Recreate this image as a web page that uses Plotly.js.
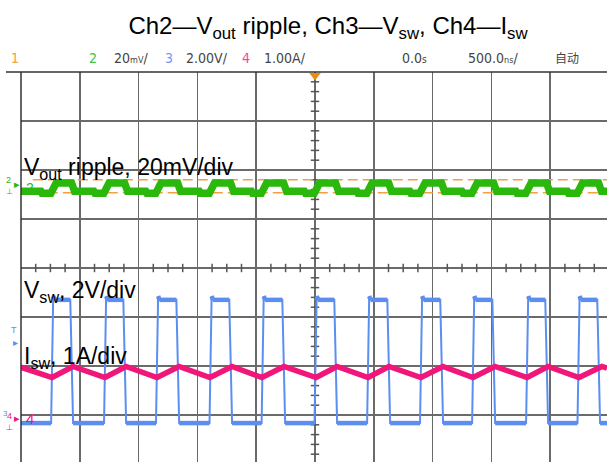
<!DOCTYPE html>
<html><head><meta charset="utf-8">
<script src="https://cdn.plot.ly/plotly-3.0.1.min.js"></script>
<style>html,body{margin:0;padding:0;background:#fff}</style>
</head><body><div id="chart" style="width:607px;height:462px"></div>
<script>
// ---- scope settings ----
const nsPerDiv = 500;
const ch2mVperDiv = 20, ch2RefDiv = 1.70;
const ch3VperDiv = 2, ch3RefDiv = -3;
const ch4AperDiv = 1, ch4RefDiv = -3;

// ---- Ch3 Vsw: switching edges (ns) and levels (V) ----
const vswRiseNs = [-2236, -1786, -1344, -889, -446, 4, 451, 901, 1344, 1803, 2240];
const vswFallNs = [-2075, -1624, -1173, -723, -272, 170, 621, 1071, 1514, 1964, 2406];
const vswHighV = 4.7;
const vswLowV = -0.33;

// ---- Ch4 Isw: triangle vertices (ns, A) ----
const iswT = [-2500, -2236, -2058, -1786, -1607, -1344, -1156, -893, -706, -451, -264, 9, 187, 451, 629, 901, 1088, 1344, 1531, 1803, 1981, 2245, 2440, 2483];
const iswA = [0.975, 0.765, 0.99, 0.765, 0.99, 0.765, 0.99, 0.765, 0.99, 0.765, 0.99, 0.765, 0.99, 0.765, 0.99, 0.765, 0.99, 0.765, 0.99, 0.765, 0.99, 0.765, 0.99, 0.955];

// ---- Ch2 Vout ripple levels (mV) ----
const voutHighmV = 0.7;
const voutLowmV = -2.65;
const voutDipmV = -3.5;
// cursor levels (mV)
const cursorLevelsmV = [2.04, -3.27];

// ---- header texts ----
const titleText = 'Ch2—V<sub>out</sub> ripple, Ch3—V<sub>sw</sub>, Ch4—I<sub>sw</sub>';
const labelVout = 'V<sub>out</sub> ripple, 20mV/div';
const labelVsw = 'V<sub>sw</sub>, 2V/div';
const labelIsw = 'I<sub>sw</sub>, 1A/div';

// ---- geometry ----
const W = 607, H = 462, L = 21, T = 72;
const plotW = W - L, plotH = H - T;
const pxPerDivX = 58.8, pxPerDivY = 49;
const xMin = -5 * nsPerDiv;
const xMax = xMin + plotW / pxPerDivX * nsPerDiv;
const yTop = 4, yBot = 4 - plotH / pxPerDivY;
const px = x => (x - L) / plotW;
const py = y => (H - y) / plotH;

// build Vsw vertex list from edges
const vswT = [xMin], vswV = [vswLowV];
for (let i = 0; i < vswRiseNs.length; i++) {
  vswT.push(vswRiseNs[i] - 8, vswRiseNs[i] + 10, vswRiseNs[i] + 22);
  vswV.push(vswLowV, vswHighV + 0.15, vswHighV);
  if (i < vswFallNs.length) {
    vswT.push(vswFallNs[i] - 6, vswFallNs[i] + 18);
    vswV.push(vswHighV, vswLowV);
  }
}
vswT.push(xMax); vswV.push(vswLowV);

// plateau-only version (thicker noisy band)
const platT = [], platV = [];
for (let i = 0; i < vswT.length - 1; i++) {
  if (Math.abs(vswV[i] - vswV[i + 1]) < 0.2) {
    platT.push(vswT[i], vswT[i + 1], null);
    platV.push(vswV[i], vswV[i + 1], null);
  }
}

// Vout ripple vertices from the same edges
const voutT = [xMin], voutV = [voutLowmV];
for (let i = 0; i < vswRiseNs.length; i++) {
  const r = vswRiseNs[i];
  voutT.push(r - 95, r - 85, r - 10, r + 35);
  voutV.push(voutLowmV, voutDipmV, voutDipmV, voutHighmV);
  if (i < vswFallNs.length) {
    const f = vswFallNs[i];
    voutT.push(f + 5, f + 30);
    voutV.push(voutHighmV, voutLowmV);
  }
}
voutT.push(xMax); voutV.push(voutLowmV);

// axes ranges for each channel
const r2 = [(yBot - ch2RefDiv) * ch2mVperDiv, (yTop - ch2RefDiv) * ch2mVperDiv];
const r3 = [(yBot - ch3RefDiv) * ch3VperDiv, (yTop - ch3RefDiv) * ch3VperDiv];
const r4 = [(yBot - ch4RefDiv) * ch4AperDiv, (yTop - ch4RefDiv) * ch4AperDiv];

// centre graticule ticks
const tickXs = [], tickYs = [];
for (let k = -20; k <= 20; k++) if (k % 4 !== 0) tickXs.push(k * nsPerDiv / 4);
for (let k = -20; k <= 20; k++) if (k % 5 !== 0) tickYs.push(k / 5);

const GREEN = '#2ab80c', BLUE = '#5c8ef2', PINK = '#f0167a', ORANGE = '#f5a040';

const traces = [
  {x: tickXs, y: tickXs.map(() => 0), mode: 'markers', xaxis: 'x', yaxis: 'y', hoverinfo: 'skip',
   marker: {symbol: 'line-ns', size: 6, line: {color: '#555', width: 1.5}}},
  {x: tickYs.map(() => 0), y: tickYs, mode: 'markers', xaxis: 'x', yaxis: 'y', hoverinfo: 'skip',
   marker: {symbol: 'line-ew', size: 6, line: {color: '#555', width: 1.5}}},
  // cursors
  {x: [-2400, xMax], y: [cursorLevelsmV[0], cursorLevelsmV[0]], mode: 'lines', yaxis: 'y2',
   line: {color: ORANGE, width: 1.6, dash: '10px,5px'}},
  {x: [-2400, xMax], y: [cursorLevelsmV[1], cursorLevelsmV[1]], mode: 'lines', yaxis: 'y2',
   line: {color: ORANGE, width: 1.6, dash: '10px,5px'}},
  // Ch2
  {x: voutT, y: voutV, mode: 'lines', yaxis: 'y2', line: {color: GREEN, width: 7.5}},
  // Ch3
  {x: platT, y: platV, mode: 'lines', yaxis: 'y3', line: {color: BLUE, width: 4.5}, connectgaps: false},
  {x: vswT, y: vswV, mode: 'lines', yaxis: 'y3', line: {color: BLUE, width: 2}},
  // Ch4
  {x: iswT, y: iswA, mode: 'lines', yaxis: 'y4', line: {color: PINK, width: 5.5}},
  // trigger marker
  {x: [0], y: [yTop - 3.5 / pxPerDivY], mode: 'markers', yaxis: 'y', cliponaxis: false,
   marker: {symbol: 'triangle-down', size: 10, color: '#f08a10'}}
];

const grid = {showgrid: true, gridcolor: '#6a6a6a', gridwidth: 1.5, zeroline: false,
              showticklabels: false, ticks: '', showline: false};
const hidden = {overlaying: 'y', visible: false, showgrid: false, zeroline: false};

const statusFont = 'Liberation Sans Narrow, DejaVu Sans Condensed, Arial, sans-serif';
function st(text, x, color, size, fam) {
  return {text, x: px(x), y: py(58), xref: 'paper', yref: 'paper', xanchor: 'left', yanchor: 'middle',
          showarrow: false, font: {family: fam || statusFont, size: size || 14, color: color || '#444'}};
}
function lab(text, x, y, color, size, anchor) {
  return {text, x: px(x), y: py(y), xref: 'paper', yref: 'paper', xanchor: anchor || 'center', yanchor: 'middle',
          showarrow: false, font: {family: 'Liberation Sans, Arial, sans-serif', size: size, color: color}};
}

const annotations = [
  st('1', 9, ORANGE), st('2', 87, '#3cc43c'),
  st('20<span style="font-size:9px">mV</span>/', 112),
  st('3', 163, '#7896f5'), st('2.00V/', 184),
  st('4', 240, '#f04aa0'), st('1.00A/', 262),
  st('0.0<span style="font-size:10px">s</span>', 400),
  st('500.0<span style="font-size:9px">ns</span>/', 466),
  st('自动', 553, '#444', 12, 'Noto Sans CJK SC, sans-serif'),
  // in-plot labels
  {text: labelVout, x: px(22), y: py(168), xref: 'paper', yref: 'paper', xanchor: 'left', yanchor: 'middle',
   showarrow: false, font: {family: 'Liberation Sans, Arial, sans-serif', size: 23, color: '#000'}},
  {text: labelVsw, x: px(22), y: py(291), xref: 'paper', yref: 'paper', xanchor: 'left', yanchor: 'middle',
   showarrow: false, font: {family: 'Liberation Sans, Arial, sans-serif', size: 23, color: '#000'}},
  {text: labelIsw, x: px(22), y: py(357), xref: 'paper', yref: 'paper', xanchor: 'left', yanchor: 'middle',
   showarrow: false, font: {family: 'Liberation Sans, Arial, sans-serif', size: 23, color: '#000'}},
  // channel markers
  lab('2', 8, 180, GREEN, 9), lab('▸', 17, 184, GREEN, 11), lab('2', 30, 188, GREEN, 14),
  lab('⊥', 9, 191, GREEN, 8),
  lab('T', 14, 330, BLUE, 9), lab('▸', 15, 342, BLUE, 10),
  lab('3', 5, 413, BLUE, 8), lab('4', 10, 416, PINK, 9), lab('▸', 17, 418, PINK, 11), lab('4', 30, 418, PINK, 15),
  lab('⊥', 9, 427, PINK, 8)
];

const layout = {
  width: W, height: H,
  margin: {l: L, r: 0, t: T, b: 0, pad: 0},
  paper_bgcolor: '#fff', plot_bgcolor: '#fff',
  showlegend: false,
  title: {text: titleText, x: 328 / W, xanchor: 'center', y: 1 - 26 / H, yanchor: 'middle',
          font: {family: 'Liberation Sans, Arial, sans-serif', size: 24, color: '#000'}},
  xaxis: Object.assign({range: [xMin, xMax], dtick: nsPerDiv, tick0: 0}, grid),
  yaxis: Object.assign({range: [yBot, yTop], dtick: 1, tick0: 0}, grid),
  yaxis2: Object.assign({range: r2}, hidden),
  yaxis3: Object.assign({range: r3}, hidden),
  yaxis4: Object.assign({range: r4}, hidden),
  shapes: [
    {type: 'line', xref: 'paper', yref: 'paper', x0: px(6), x1: 1, y0: 1, y1: 1, line: {color: '#333', width: 1.5}},
    {type: 'line', xref: 'paper', yref: 'paper', x0: 0, x1: 0, y0: 0, y1: 1, line: {color: '#333', width: 1.5}}
  ],
  annotations
};

Plotly.newPlot('chart', traces, layout, {displayModeBar: false, staticPlot: true});
</script></body></html>
